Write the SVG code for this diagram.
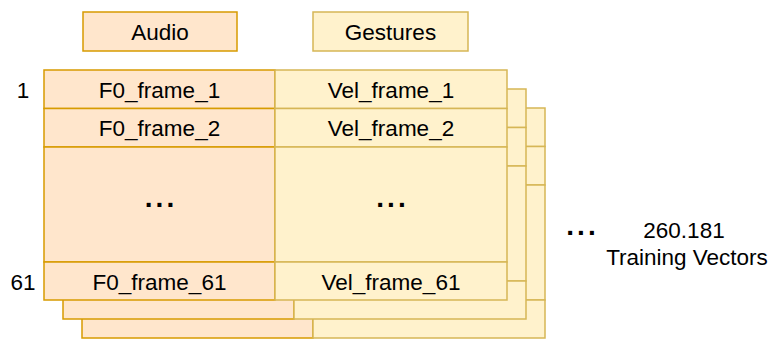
<svg xmlns="http://www.w3.org/2000/svg" xmlns:xlink="http://www.w3.org/1999/xlink" width="777" height="340" viewBox="0 0 777 340">
  <style>
    .audio { fill: #ffe6cc; stroke: #d79b00; stroke-width: 1.5; }
    .gest { fill: #fff2cc; stroke: #d6b656; stroke-width: 1.5; }
    text { font-family: "Liberation Sans", Arial, Helvetica, sans-serif; font-size: 22.5px; fill: #000; text-anchor: middle; }
    .dots { font-weight: bold; font-size: 28px; letter-spacing: 3px; }
  </style>
  <defs>
    <!-- one training vector: audio column + gesture column, 4 rows each -->
    <g id="vector-frame">
      <rect class="audio" x="0" y="0" width="231" height="38.5"/>
      <rect class="audio" x="0" y="38.5" width="231" height="38.5"/>
      <rect class="audio" x="0" y="77" width="231" height="115"/>
      <rect class="audio" x="0" y="192" width="231" height="38"/>
      <rect class="gest" x="231" y="0" width="232" height="38.5"/>
      <rect class="gest" x="231" y="38.5" width="232" height="38.5"/>
      <rect class="gest" x="231" y="77" width="232" height="115"/>
      <rect class="gest" x="231" y="192" width="232" height="38"/>
    </g>
  </defs>

  <!-- column headers -->
  <g id="header-audio">
    <rect class="audio" x="83" y="12" width="154" height="39"/>
    <text x="160" y="40">Audio</text>
  </g>
  <g id="header-gestures">
    <rect class="gest" x="313" y="12" width="155" height="39"/>
    <text x="390.5" y="40">Gestures</text>
  </g>

  <!-- stacked vectors, back to front -->
  <g id="vector-3">
    <use xlink:href="#vector-frame" x="82" y="108"/>
  </g>
  <g id="vector-2">
    <use xlink:href="#vector-frame" x="63" y="89"/>
  </g>
  <g id="vector-1">
    <use xlink:href="#vector-frame" x="44" y="70"/>
    <text x="159.5" y="97.5">F0_frame_1</text>
    <text x="159.5" y="136">F0_frame_2</text>
    <text class="dots" x="161" y="207">...</text>
    <text x="159.5" y="289.5">F0_frame_61</text>
    <text x="391" y="97.5">Vel_frame_1</text>
    <text x="391" y="136">Vel_frame_2</text>
    <text class="dots" x="392.5" y="207">...</text>
    <text x="391" y="289.5">Vel_frame_61</text>
  </g>

  <!-- row indices -->
  <g id="row-index">
    <text x="23" y="97.5">1</text>
    <text x="23" y="289.5">61</text>
  </g>

  <!-- count of vectors -->
  <g id="vector-count">
    <text class="dots" x="582.5" y="235">...</text>
    <text x="684" y="238">260.181</text>
    <text x="687" y="265">Training Vectors</text>
  </g>
</svg>
